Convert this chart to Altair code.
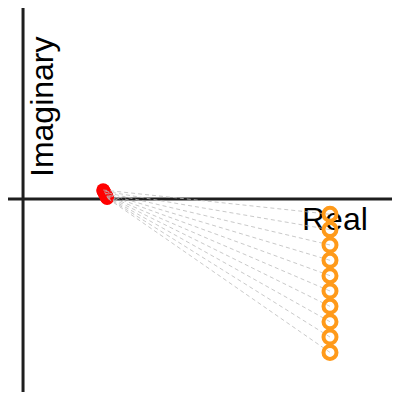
import altair as alt
import pandas as pd

# Input points (orange, open) and mapped points (red, filled)
real_in = [1.0, 1.0, 1.0, 1.0, 1.0, 1.0, 1.0, 1.0, 1.0, 1.0]
imag_in = [-0.05, -0.10, -0.15, -0.20, -0.25, -0.30, -0.35, -0.40, -0.45, -0.50]
real_out = [0.261, 0.262, 0.264, 0.265, 0.267, 0.268, 0.270, 0.271, 0.273, 0.274]
imag_out = [0.029, 0.026, 0.023, 0.020, 0.017, 0.014, 0.011, 0.008, 0.005, 0.003]

X_DOMAIN = [-0.049, 1.202]
Y_DOMAIN = [-0.629, 0.622]

df = pd.DataFrame({
    "re_in": real_in, "im_in": imag_in,
    "re_out": real_out, "im_out": imag_out,
})

xs = alt.Scale(domain=X_DOMAIN, nice=False, zero=False)
ys = alt.Scale(domain=Y_DOMAIN, nice=False, zero=False)

base = alt.Chart(df)

axis_v = alt.Chart(pd.DataFrame({"v": [0.0]})).mark_rule(color="#1e1e1e", strokeWidth=3).encode(
    x=alt.X("v:Q", scale=xs, axis=None))
axis_h = alt.Chart(pd.DataFrame({"v": [0.0]})).mark_rule(color="#1e1e1e", strokeWidth=3).encode(
    y=alt.Y("v:Q", scale=ys, axis=None))

lbl_real = alt.Chart(pd.DataFrame({"t": ["Real"]})).mark_text(
    font="Liberation Sans", fontSize=32, align="left", baseline="alphabetic", color="#000000"
).encode(text="t:N", x=alt.value(294), y=alt.value(222))

lbl_imag = alt.Chart(pd.DataFrame({"t": ["Imaginary"]})).mark_text(
    font="Liberation Sans", fontSize=32, align="left", baseline="alphabetic", angle=270, color="#000000"
).encode(text="t:N", x=alt.value(45), y=alt.value(169))

red = base.mark_point(shape="circle", filled=True, color="#ff0000", size=190, opacity=1).encode(
    x=alt.X("re_out:Q", scale=xs, axis=None),
    y=alt.Y("im_out:Q", scale=ys, axis=None))

links = base.mark_rule(color="#bbbbbb", strokeWidth=1, strokeDash=[4, 3], opacity=0.8).encode(
    x=alt.X("re_in:Q", scale=xs, axis=None),
    y=alt.Y("im_in:Q", scale=ys, axis=None),
    x2="re_out:Q", y2="im_out:Q")

orange = base.mark_point(shape="circle", filled=False, color="#ff9a1a", size=169,
                         strokeWidth=4, opacity=1).encode(
    x=alt.X("re_in:Q", scale=xs, axis=None),
    y=alt.Y("im_in:Q", scale=ys, axis=None))

chart = alt.layer(axis_v, axis_h, lbl_real, lbl_imag, red, links, orange).properties(
    width=384, height=384, padding=0, autosize="none"
).configure_view(stroke=None)

chart.save("out.html", embed_options={"renderer": "svg", "actions": False})
